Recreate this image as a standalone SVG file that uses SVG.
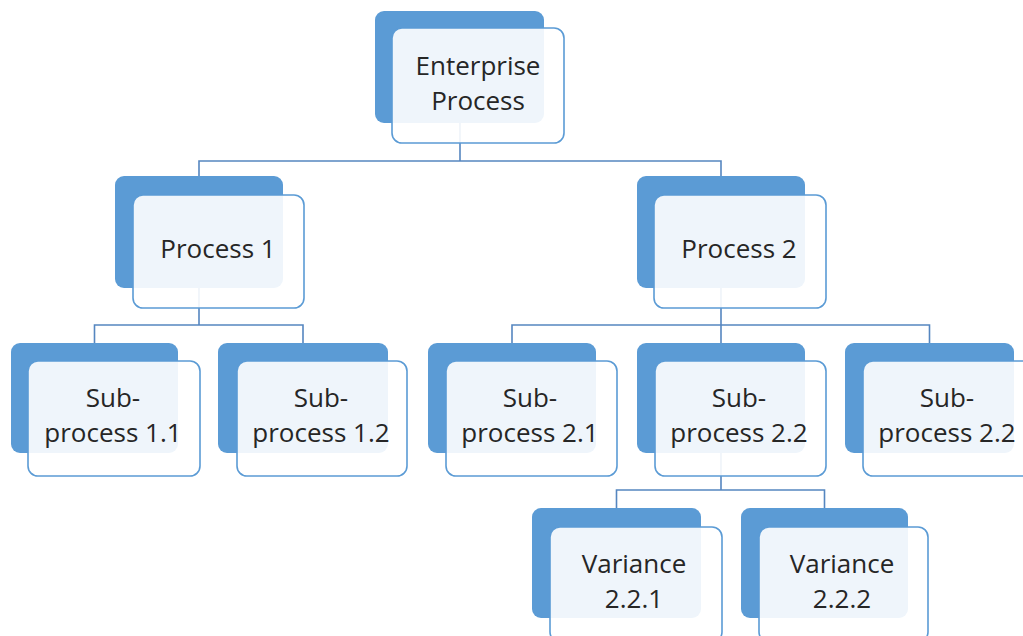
<svg xmlns="http://www.w3.org/2000/svg" width="1023" height="636" viewBox="0 0 1023 636">
<style>
.back{fill:#5B9BD5;}
.front{fill:#FFFFFF;fill-opacity:0.9;stroke:#5B9BD5;stroke-width:1.6;}
.conn{fill:none;stroke:#5586C0;stroke-width:1.6;}
text{font-family:"Open Sans","Liberation Sans",sans-serif;font-size:26px;fill:#262626;text-anchor:middle;}
</style>
<rect width="1023" height="636" fill="#FFFFFF"/>
<g id="connectors">
<path class="conn" d="M460,123 V161 M199,176 V161 H721 V176"/>
<path class="conn" d="M199,288 V325 M94.5,343 V325 H303 V343"/>
<path class="conn" d="M721,288 V325 M512,343 V325 H929.5 V343 M721,325 V343"/>
<path class="conn" d="M721,453 V490 M616.5,508 V490 H824.5 V508"/>
</g>
<g id="enterprise">
<rect class="back" x="375" y="11" width="169" height="112" rx="9"/>
<rect class="front" x="392" y="28" width="172" height="115" rx="10"/>
<text x="478" y="75">Enterprise</text>
<text x="478" y="110">Process</text>
</g>
<g id="process1">
<rect class="back" x="115" y="176" width="168" height="112" rx="9"/>
<rect class="front" x="133" y="195" width="171" height="113" rx="10"/>
<text x="218" y="258">Process 1</text>
</g>
<g id="process2">
<rect class="back" x="637" y="176" width="168" height="112" rx="9"/>
<rect class="front" x="654" y="195" width="172" height="113" rx="10"/>
<text x="739" y="258">Process 2</text>
</g>
<g id="sub11">
<rect class="back" x="11" y="343" width="167" height="110" rx="9"/>
<rect class="front" x="28" y="361" width="172" height="115" rx="10"/>
<text x="113" y="407">Sub-</text>
<text x="113" y="442">process 1.1</text>
</g>
<g id="sub12">
<rect class="back" x="218" y="343" width="170" height="110" rx="9"/>
<rect class="front" x="237" y="361" width="170" height="115" rx="10"/>
<text x="321" y="407">Sub-</text>
<text x="321" y="442">process 1.2</text>
</g>
<g id="sub21">
<rect class="back" x="428" y="343" width="168" height="110" rx="9"/>
<rect class="front" x="446" y="361" width="171" height="115" rx="10"/>
<text x="530" y="407">Sub-</text>
<text x="530" y="442">process 2.1</text>
</g>
<g id="sub22">
<rect class="back" x="637" y="343" width="168" height="110" rx="9"/>
<rect class="front" x="655" y="361" width="171" height="115" rx="10"/>
<text x="739" y="407">Sub-</text>
<text x="739" y="442">process 2.2</text>
</g>
<g id="sub22b">
<rect class="back" x="845" y="343" width="169" height="110" rx="9"/>
<rect class="front" x="863" y="361" width="171" height="115" rx="10"/>
<text x="947" y="407">Sub-</text>
<text x="947" y="442">process 2.2</text>
</g>
<g id="var221">
<rect class="back" x="532" y="508" width="169" height="110" rx="9"/>
<rect class="front" x="550" y="527" width="172" height="115" rx="10"/>
<text x="634" y="573">Variance</text>
<text x="634" y="608">2.2.1</text>
</g>
<g id="var222">
<rect class="back" x="741" y="508" width="167" height="110" rx="9"/>
<rect class="front" x="759" y="527" width="169" height="115" rx="10"/>
<text x="842" y="573">Variance</text>
<text x="842" y="608">2.2.2</text>
</g>
</svg>
